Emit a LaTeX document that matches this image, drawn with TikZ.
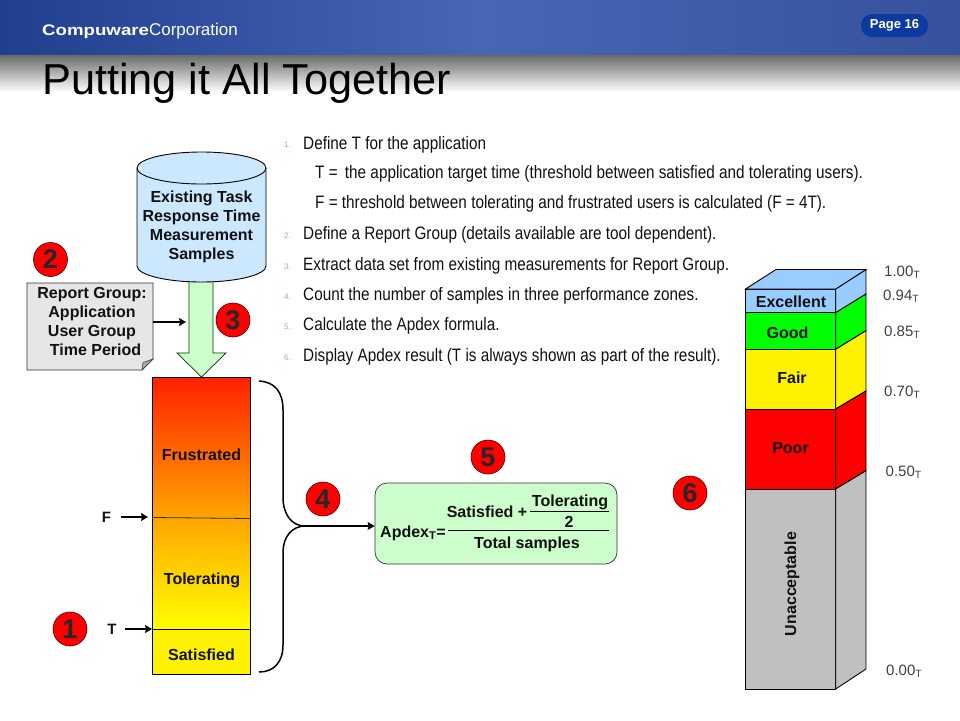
\documentclass[tikz,border=0pt]{standalone}
\usepackage{fontspec}
\setmainfont{Liberation Sans}
\newfontfamily\narrowf[FakeStretch=0.85]{Liberation Sans}
\newfontfamily\wideb[FakeStretch=1.22]{Liberation Sans Bold}
\usetikzlibrary{arrows.meta,calc}
\definecolor{hdl}{HTML}{213F8F}
\definecolor{hdm}{HTML}{4766B4}
\definecolor{hdr}{HTML}{36529C}
\definecolor{pill}{HTML}{0C3A9E}
\definecolor{cyl}{HTML}{CCE8FF}
\definecolor{shaftg}{HTML}{CCFFCC}
\definecolor{notegray}{HTML}{E6E6E6}
\definecolor{foldgray}{HTML}{A8A8A8}
\definecolor{topblue}{HTML}{99CCFF}
\definecolor{grayz}{HTML}{C0C0C0}
\definecolor{numc}{HTML}{8FAFC8}
\definecolor{txt}{HTML}{111111}
\definecolor{barmid}{HTML}{FFA500}
\definecolor{bartop}{HTML}{FF2000}
\tikzset{
  x=1pt,y=-1pt,
  lbl/.style={font=\fontsize{16}{19}\selectfont\bfseries,align=center,inner sep=0pt,text=txt},
  small/.style={font=\fontsize{15}{15}\selectfont\bfseries,inner sep=0pt,text=txt},
  badge/.style={circle,draw=black!70!red,line width=0.6pt,fill=red,minimum size=34pt,inner sep=0pt,font=\fontsize{27}{27}\selectfont\bfseries,text=black!85},
  stepn/.style={anchor=base west,inner sep=0pt,font=\fontsize{8}{8}\selectfont,text=numc},
  stept/.style={anchor=base west,inner sep=0pt,font=\narrowf\fontsize{18}{20}\selectfont,text=txt},
  lev/.style={anchor=west,inner sep=0pt,font=\fontsize{15}{17}\selectfont,text=black!75},
  ln/.style={draw=black,line width=0.9pt},
  arr/.style={draw=black,line width=1.4pt,-{Stealth[length=7pt,width=8pt,inset=1pt]}},
  brace/.style={draw=black,line width=1.5pt},
}
\newcommand{\levT}[1]{#1\textsubscript{T}}
\begin{document}
\begin{tikzpicture}
\useasboundingbox (0,0) rectangle (960,720);
\fill[white] (0,0) rectangle (960,720);
% header
\shade[top color=black!60,bottom color=white] (0,54) rectangle (960,92);
\shade[left color=hdl,right color=hdr,middle color=hdm] (0,0) rectangle (960,54);
\node[anchor=base west,inner sep=0pt,text=white] (co) at (42,35) {{\wideb\fontsize{15.3}{15}\selectfont Compuware}{\fontsize{17}{15}\selectfont Corporation}};
\node[rounded corners=11pt,fill=pill,minimum width=67pt,minimum height=23pt,inner sep=0pt,text=white,font=\fontsize{13}{13}\selectfont\bfseries] (page) at (894.5,25.5) {Page 16};
\node[anchor=base west,inner sep=0pt,font=\fontsize{43.3}{43}\selectfont] (title) at (42,94) {Putting it All Together};
% steps
\node[stepn] (n1) at (284,147) {1.};
\node[stept] (s1) at (303,149) {Define T for the application};
\node[stept] (s1a) at (315,178) {T =\, the application target time (threshold between satisfied and tolerating users).};
\node[stept] (s1b) at (315,208) {F = threshold between tolerating and frustrated users is calculated (F = 4T).};
\node[stepn] (n2) at (284,238) {2.};
\node[stept] (s2) at (303,239) {Define a Report Group (details available are tool dependent).};
\node[stepn] (n3) at (284,269) {3.};
\node[stept] (s3) at (303,270) {Extract data set from existing measurements for Report Group.};
\node[stepn] (n4) at (284,299) {4.};
\node[stept] (s4) at (303,300) {Count the number of samples in three performance zones.};
\node[stepn] (n5) at (284,329) {5.};
\node[stept] (s5) at (303,330) {Calculate the Apdex formula.};
\node[stepn] (n6) at (284,360) {6.};
\node[stept] (s6) at (303,361) {Display Apdex result (T is always shown as part of the result).};
% block arrow
\draw[fill=shaftg,draw=black!80!green,line width=0.7pt] (189,280) -- (213,280) -- (213,353) -- (226,353) -- (201.5,377) -- (177,353) -- (189,353) -- cycle;
\coordinate (shaft) at (186,322);
% cylinder
\draw[fill=cyl,draw=black,line width=0.9pt] (137,168) -- (137,266) arc[start angle=180,end angle=360,x radius=64.5,y radius=-16] -- (266,168) arc[start angle=0,end angle=180,x radius=64.5,y radius=-16] -- cycle;
\draw[line width=0.9pt,draw=black] (137,168) arc[start angle=180,end angle=360,x radius=64.5,y radius=-16];
\node[lbl] (cy) at (201.5,227) {Existing Task\\Response Time\\Measurement\\Samples};
% note
\draw[fill=notegray,draw=black!80,line width=0.7pt] (27,283) -- (153,283) -- (153,359) -- (142,370) -- (27,370) -- cycle;
\draw[fill=foldgray,draw=black!80,line width=0.5pt] (153,359) -- (143,362.5) -- (142,370) -- cycle;
\node[lbl] (note) at (92,321.5) {Report Group:\\Application\\User Group\\\hspace*{7pt}Time Period};
\coordinate (noteE) at (153,322);
\draw[arr] (noteE) -- (shaft);
% bar
\shade[top color=bartop,bottom color=barmid] (152.5,377) rectangle (250.5,518);
\shade[top color=barmid,bottom color=yellow] (152.5,518) rectangle (250.5,629);
\fill[yellow] (152.5,629) rectangle (250.5,674);
\draw[ln] (152.5,377) rectangle (250.5,674);
\draw[draw=black!80,line width=0.8pt] (152.5,517.5) -- (250.5,518.5);
\draw[ln] (152.5,629) -- (250.5,629);
\node[lbl] (fr) at (201.5,454.5) {Frustrated};
\node[lbl] (to) at (202,580.5) {Tolerating};
\node[lbl] (sa) at (201.5,654.5) {Satisfied};
\node[small] (F) at (106.5,517) {F};
\node[small] (T) at (112,629) {T};
\coordinate (fe) at (148,517);
\coordinate (fs) at (121,517);
\coordinate (te) at (152,629);
\coordinate (ts) at (125,629);
\draw[arr] (fs) -- (fe);
\draw[arr] (ts) -- (te);
% brace
\coordinate (bj) at (305,526);
\draw[brace] (259,381) .. controls (275,382) and (283,392) .. (283,410) -- (283,497) .. controls (283,515) and (292,526) .. (bj);
\draw[brace] (bj) .. controls (292,526) and (283,537) .. (283,552) -- (283,645) .. controls (283,662) and (274,672) .. (259,672);
% formula
\node[draw=black!80,line width=0.7pt,fill=shaftg,rounded corners=12pt,minimum width=242pt,minimum height=81pt,inner sep=0pt] (apdex) at (496,523.5) {};
\draw[arr] (bj) -- (apdex.west |- bj);
\node[lbl] (ap) at (413,533) {Apdex\textsubscript{T}=};
\node[lbl] (sp) at (487,511.5) {Satisfied +};
\node[lbl] (tf) at (570,502) {Tolerating};
\node[lbl] (two) at (569,522) {2};
\node[lbl] (tot) at (527,544) {Total samples};
\draw[draw=black,line width=0.8pt] (448,530) -- (609,530);
\draw[draw=black,line width=0.8pt] (530,511.5) -- (609,511.5);
% 3D stack
\foreach \ya/\yb/\c/\sa/\sb in {289/312.7/topblue/269.5/294,312.7/349.3/green/294/330.7,349.3/409/yellow/330.7/391,409/489/red/391/470.7,489/689/grayz/470.7/669}{
  \draw[fill=\c,ln] (745.5,\ya) rectangle (835.7,\yb);
  \draw[fill=\c,ln] (835.7,\ya) -- (866,\sa) -- (866,\sb) -- (835.7,\yb) -- cycle;
}
\draw[fill=topblue,ln] (745.5,289) -- (776,269.5) -- (866,269.5) -- (835.7,289) -- cycle;
\node[lbl] (ex) at (791,302) {Excellent};
\node[lbl] (go) at (787.5,332.5) {Good};
\node[lbl] (fa) at (792,377.5) {Fair};
\node[lbl] (po) at (790.5,448.5) {Poor};
\node[lbl,rotate=90] (un) at (792,584) {Unacceptable};
\node[lev] (l1) at (884,272) {\levT{1.00}};
\node[lev] (l2) at (883,296) {\levT{0.94}};
\node[lev] (l3) at (884,332) {\levT{0.85}};
\node[lev] (l4) at (884,392) {\levT{0.70}};
\node[lev] (l5) at (885.5,472) {\levT{0.50}};
\node[lev] (l6) at (886,671) {\levT{0.00}};
% badges
\node[badge] (b1) at (70,629) {1};
\node[badge] (b2) at (50.5,259.5) {2};
\node[badge] (b3) at (233,320) {3};
\node[badge] (b4) at (323,499) {4};
\node[badge] (b5) at (488,457) {5};
\node[badge] (b6) at (690,493) {6};
\end{tikzpicture}
\end{document}
